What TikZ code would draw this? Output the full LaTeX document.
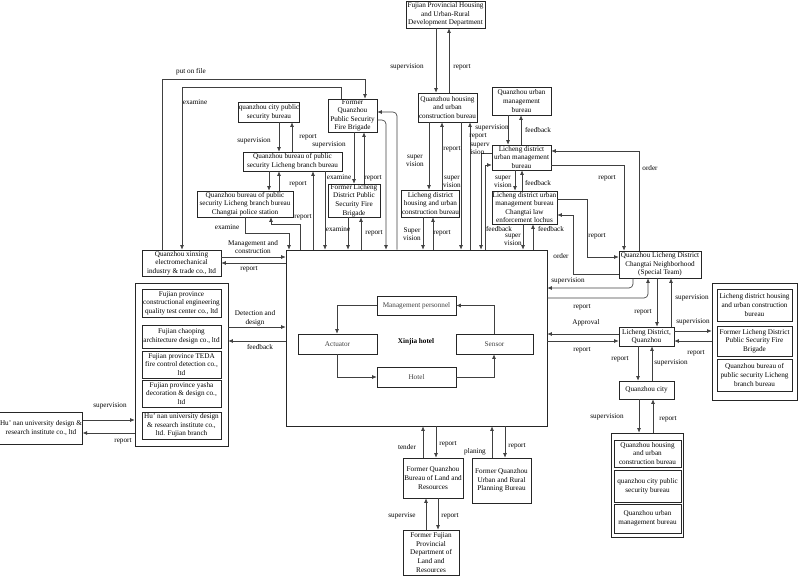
\documentclass[tikz,border=0pt]{standalone}
\usepackage{fontspec}
\setmainfont{Liberation Serif}
\usetikzlibrary{arrows.meta}
\newcommand\fs{\fontsize{7.2}{8.6}\selectfont}
\tikzset{
 box/.style={draw=black!85, line width=0.6pt, align=center, inner sep=0.3pt, font=\fs, fill=white},
 lbl/.style={align=center, inner sep=0pt, font=\fs},
 con/.style={draw=black!75, line width=0.65pt, -{Latex[length=4.5pt,width=3.8pt]}},
}
\newcommand\mkbox[6]{\node[box, minimum width=#4pt-#2pt, minimum height=#5pt-#3pt] (#1) at ({(#2+#4)/2},{(#3+#5)/2}) {#6};}
\begin{document}
\begin{tikzpicture}[x=1pt,y=-1pt]
\useasboundingbox (0,0) rectangle (800,578);
% panels
\mkbox{lpanel}{135}{283}{228}{446}{}
\mkbox{rpanel}{712}{283}{797}{400}{}
\mkbox{bpanel}{611}{433}{683}{537}{}
\mkbox{xinjia}{286}{250}{547}{426}{}
% boxes
\mkbox{fjhd}{406}{1}{485}{28}{Fujian Provincial Housing\\and Urban-Rural\\Development Department}
\mkbox{qzh}{418}{93}{477}{122}{Quanzhou housing\\and urban\\construction bureau}
\mkbox{qzcps}{240}{102}{298}{122}{quanzhou city public\\security bureau}
\mkbox{lcbb}{243}{152}{342}{171}{Quanzhou bureau of public\\security Licheng branch bureau}
\mkbox{ctps}{197}{191}{293}{217}{Quanzhou bureau of public\\security Licheng branch bureau\\Changtai police station}
\mkbox{qzfb}{328}{99}{377}{132}{Former\\Quanzhou\\Public Security\\Fire Brigade}
\mkbox{lcfb}{328}{184}{380}{217}{Former Licheng\\District Public\\Security Fire\\Brigade}
\mkbox{xinxing}{142}{250}{221}{276}{Quanzhou xinxing\\electromechanical\\industry \& trade co., ltd}
\mkbox{mgmt}{377}{296}{456}{315}{\color{black!75}Management personnel}
\mkbox{act}{298}{334}{377}{354}{\color{black!75}Actuator}
\mkbox{sensor}{456}{334}{533}{354}{\color{black!75}Sensor}
\mkbox{hotelin}{377}{367}{456}{387}{\color{black!75}Hotel}
\node[lbl, font=\fs\bfseries] (xjlabel) at (416,342) {Xinjia hotel};
\mkbox{lp1}{142}{289}{221}{317}{Fujian province\\constructional engineering\\quality test center co., ltd}
\mkbox{lp2}{142}{325}{221}{348}{Fujian chaoping\\architecture design co., ltd}
\mkbox{lp3}{142}{351}{221}{378}{Fujian province TEDA\\fire control detection co.,\\ltd}
\mkbox{lp4}{142}{380}{221}{407}{Fujian province yasha\\decoration \& design co.,\\ltd}
\mkbox{lp5}{142}{412}{221}{439}{Hu' nan university design\\\& research institute co.,\\ltd. Fujian branch}
\mkbox{hunan}{2}{412}{80}{444}{Hu' nan university design \&\\research institute co., ltd}
\mkbox{qzumb}{492}{87}{551}{115}{Quanzhou urban\\management\\bureau}
\mkbox{lcumb}{492}{145}{551}{170}{Licheng district\\urban management\\bureau}
\mkbox{lochus}{492}{191}{557}{224}{Licheng district urban\\management bureau\\Changtai law\\enforcement lochus}
\mkbox{nbhd}{619}{251}{701}{278}{Quanzhou Licheng District\\Changtai Neighborhood\\(Special Team)}
\mkbox{lchb}{402}{190}{459}{217}{Licheng district\\housing and urban\\construction bureau}
\mkbox{ld}{619}{327}{674}{346}{Licheng District,\\Quanzhou}
\mkbox{rp1}{717}{289}{792}{321}{Licheng district housing\\and urban construction\\bureau}
\mkbox{rp2}{717}{326}{792}{356}{Former Licheng District\\Public Security Fire\\Brigade}
\mkbox{rp3}{717}{359}{792}{391}{Quanzhou bureau of\\public security Licheng\\branch bureau}
\mkbox{qzcity}{619}{381}{674}{399}{Quanzhou city}
\mkbox{bp1}{614}{440}{681}{467}{Quanzhou housing\\and urban\\construction bureau}
\mkbox{bp2}{614}{470}{681}{502}{quanzhou city public\\security bureau}
\mkbox{bp3}{614}{504}{681}{533}{Quanzhou urban\\management bureau}
\mkbox{qzland}{403}{458}{463}{498}{Former Quanzhou\\Bureau of Land and\\Resources}
\mkbox{qzplan}{472}{458}{531}{503}{Former Quanzhou\\Urban and Rural\\Planning Bureau}
\mkbox{fjland}{403}{530}{459}{575}{Former Fujian\\Provincial\\Department of\\Land and\\Resources}
% connectors
\draw[con] (fjhd.south -| 436,0) -- (qzh.north -| 436,0);
\draw[con] (qzh.north -| 449,0) -- (fjhd.south -| 449,0);
\draw[con] (xinxing.north -| 162,0) -- (162,79) -- (365,79) -- (qzfb.north -| 365,0);
\draw[con] (qzfb.north -| 341,0) -- (341,87) -- (182,87) -- (xinxing.north -| 182,0);
\draw[con] (qzcps.south -| 279,0) -- (lcbb.north -| 279,0);
\draw[con] (lcbb.north -| 292,0) -- (qzcps.south -| 292,0);
\draw[con] (lcbb.south -| 269,0) -- (ctps.north -| 269,0);
\draw[con] (ctps.north -| 279,0) -- (lcbb.south -| 279,0);
\draw[con] (xinjia.north -| 313,0) -- (lcbb.south -| 313,0);
\draw[con] (lcbb.south -| 325,0) -- (xinjia.north -| 325,0);
\draw[con] (qzfb.south -| 354,0) -- (lcfb.north -| 354,0);
\draw[con] (lcfb.north -| 364,0) -- (qzfb.south -| 364,0);
\draw[con] (lcfb.south -| 348,0) -- (xinjia.north -| 348,0);
\draw[con] (xinjia.north -| 361,0) -- (lcfb.south -| 361,0);
\draw[con, rounded corners=4pt] (qzfb.east |- 0,120) -- (386,120) -- (xinjia.north -| 386,0);
\draw[con, rounded corners=4pt] (xinjia.north -| 397,0) -- (397,112) -- (qzfb.east |- 0,112);
\draw[con] (ctps.south -| 245,0) -- (245,233) -- (289,233) -- (xinjia.north -| 289,0);
\draw[con] (xinjia.north -| 300,0) -- (300,224) -- (271,224) -- (ctps.south -| 271,0);
\draw[con] (xinxing.east |- 0,257) -- (xinjia.west |- 0,257);
\draw[con] (xinjia.west |- 0,263) -- (xinxing.east |- 0,263);
\draw[con] (qzh.south -| 429,0) -- (lchb.north -| 429,0);
\draw[con] (lchb.north -| 442,0) -- (qzh.south -| 442,0);
\draw[con] (qzh.south -| 461,0) -- (xinjia.north -| 461,0);
\draw[con] (lchb.south -| 423,0) -- (xinjia.north -| 423,0);
\draw[con] (xinjia.north -| 433,0) -- (lchb.south -| 433,0);
\draw[con] (xinjia.north -| 470,0) -- (qzh.south -| 470,0);
\draw[con] (lcumb.west |- 0,153) -- (481,153) -- (xinjia.north -| 481,0);
\draw[con] (xinjia.north -| 485,0) -- (485,165) -- (lcumb.west |- 0,165);
\draw[con] (qzumb.south -| 508,0) -- (lcumb.north -| 508,0);
\draw[con] (lcumb.north -| 521,0) -- (qzumb.south -| 521,0);
\draw[con] (lcumb.south -| 515,0) -- (lochus.north -| 515,0);
\draw[con] (lochus.north -| 522,0) -- (lcumb.south -| 522,0);
\draw[con] (lochus.south -| 523,0) -- (xinjia.north -| 523,0);
\draw[con] (xinjia.north -| 533,0) -- (lochus.south -| 533,0);
\draw[con] (lcumb.east |- 0,165) -- (624,165) -- (nbhd.north -| 624,0);
\draw[con] (nbhd.north -| 639,0) -- (639,151) -- (lcumb.east |- 0,151);
\draw[con] (lochus.east |- 0,199) -- (587,199) -- (587,257) -- (nbhd.west |- 0,257);
\draw[con] (nbhd.west |- 0,274) -- (573,274) -- (573,215) -- (lochus.east |- 0,215);
\draw[con, rounded corners=4pt] (nbhd.south -| 633,0) -- (633,288) -- (xinjia.east |- 0,288);
\draw[con, rounded corners=4pt] (xinjia.east |- 0,298) -- (648,298) -- (nbhd.south -| 648,0);
\draw[con] (nbhd.south -| 657,0) -- (ld.north -| 657,0);
\draw[con] (ld.north -| 671,0) -- (nbhd.south -| 671,0);
\draw[con] (ld.west |- 0,334) -- (xinjia.east |- 0,334);
\draw[con] (xinjia.east |- 0,341) -- (ld.west |- 0,341);
\draw[con] (ld.east |- 0,331) -- (rpanel.west |- 0,331);
\draw[con] (rpanel.west |- 0,341) -- (ld.east |- 0,341);
\draw[con] (ld.south -| 638,0) -- (qzcity.north -| 638,0);
\draw[con] (qzcity.north -| 652,0) -- (ld.south -| 652,0);
\draw[con] (qzcity.south -| 639,0) -- (bpanel.north -| 639,0);
\draw[con] (bpanel.north -| 653,0) -- (qzcity.south -| 653,0);
\draw[con] (lpanel.east |- 0,327) -- (xinjia.west |- 0,327);
\draw[con] (xinjia.west |- 0,341) -- (lpanel.east |- 0,341);
\draw[con] (hunan.east |- 0,420) -- (lpanel.west |- 0,420);
\draw[con] (lpanel.west |- 0,433) -- (hunan.east |- 0,433);
\draw[con] (qzland.north -| 423,0) -- (xinjia.south -| 423,0);
\draw[con] (xinjia.south -| 436,0) -- (qzland.north -| 436,0);
\draw[con] (qzplan.north -| 492,0) -- (xinjia.south -| 492,0);
\draw[con] (xinjia.south -| 505,0) -- (qzplan.north -| 505,0);
\draw[con] (fjland.north -| 426,0) -- (qzland.south -| 426,0);
\draw[con] (qzland.south -| 438,0) -- (fjland.north -| 438,0);
\draw[con] (mgmt.west) -| (act.north -| 337,0);
\draw[con] (act.south -| 337,0) |- (hotelin.west);
\draw[con] (hotelin.east) -| (sensor.south -| 494,0);
\draw[con] (sensor.north -| 494,0) |- (mgmt.east);
% labels
\node[lbl] (l1) at (407,67) {supervision};
\node[lbl] (l2) at (462,67) {report};
\node[lbl] (l3) at (191,72) {put on file};
\node[lbl] (l4) at (195,102) {examine};
\node[lbl] (l5) at (254,141) {supervision};
\node[lbl] (l6) at (308,137) {report};
\node[lbl] (l7) at (329,145) {supervision};
\node[lbl] (l8) at (298,184) {report};
\node[lbl] (l9) at (339,177) {examine};
\node[lbl] (l10) at (373,178) {report};
\node[lbl] (l11) at (338,229) {examine};
\node[lbl] (l12) at (374,233) {report};
\node[lbl] (l13) at (227,227) {examine};
\node[lbl] (l14) at (303,217) {report};
\node[lbl] (l15) at (253,247) {Management and\\construction};
\node[lbl] (l16) at (249,269) {report};
\node[lbl] (l17) at (415,161) {super\\vision};
\node[lbl] (l18) at (452,149) {report};
\node[lbl] (l19) at (452,182) {super\\vision};
\node[lbl] (l20) at (412,234) {Super\\vision};
\node[lbl] (l21) at (442,233) {report};
\node[lbl] (l22) at (478,136) {report};
\node[lbl] (l23) at (492,128) {supervision};
\node[lbl, align=left] (l24) at (480,149) {superv\\ision};
\node[lbl] (l25) at (538,130) {feedback};
\node[lbl] (l26) at (503,182) {super\\vision};
\node[lbl] (l27) at (538,183) {feedback};
\node[lbl] (l28) at (607,178) {report};
\node[lbl] (l29) at (650,168) {order};
\node[lbl] (l30) at (597,236) {report};
\node[lbl] (l31) at (561,256) {order};
\node[lbl] (l32) at (499,229) {feedback};
\node[lbl] (l33) at (513,240) {super\\vision};
\node[lbl] (l34) at (551,229) {feedback};
\node[lbl] (l35) at (568,281) {supervision};
\node[lbl] (l36) at (582,307) {report};
\node[lbl] (l37) at (586,323) {Approval};
\node[lbl] (l38) at (582,350) {report};
\node[lbl] (l39) at (643,312) {report};
\node[lbl] (l40) at (692,298) {supervision};
\node[lbl] (l41) at (693,322) {supervision};
\node[lbl] (l42) at (696,353) {report};
\node[lbl] (l43) at (620,359) {report};
\node[lbl] (l44) at (671,363) {supervision};
\node[lbl] (l45) at (607,417) {supervision};
\node[lbl] (l46) at (668,419) {report};
\node[lbl] (l47) at (255,318) {Detection and\\design};
\node[lbl] (l48) at (260,347) {feedback};
\node[lbl] (l49) at (110,406) {supervision};
\node[lbl] (l50) at (123,441) {report};
\node[lbl] (l51) at (407,447) {tender};
\node[lbl] (l52) at (448,444) {report};
\node[lbl] (l53) at (475,452) {planing};
\node[lbl] (l54) at (517,446) {report};
\node[lbl] (l55) at (402,516) {supervise};
\node[lbl] (l56) at (450,516) {report};
\end{tikzpicture}
\end{document}
